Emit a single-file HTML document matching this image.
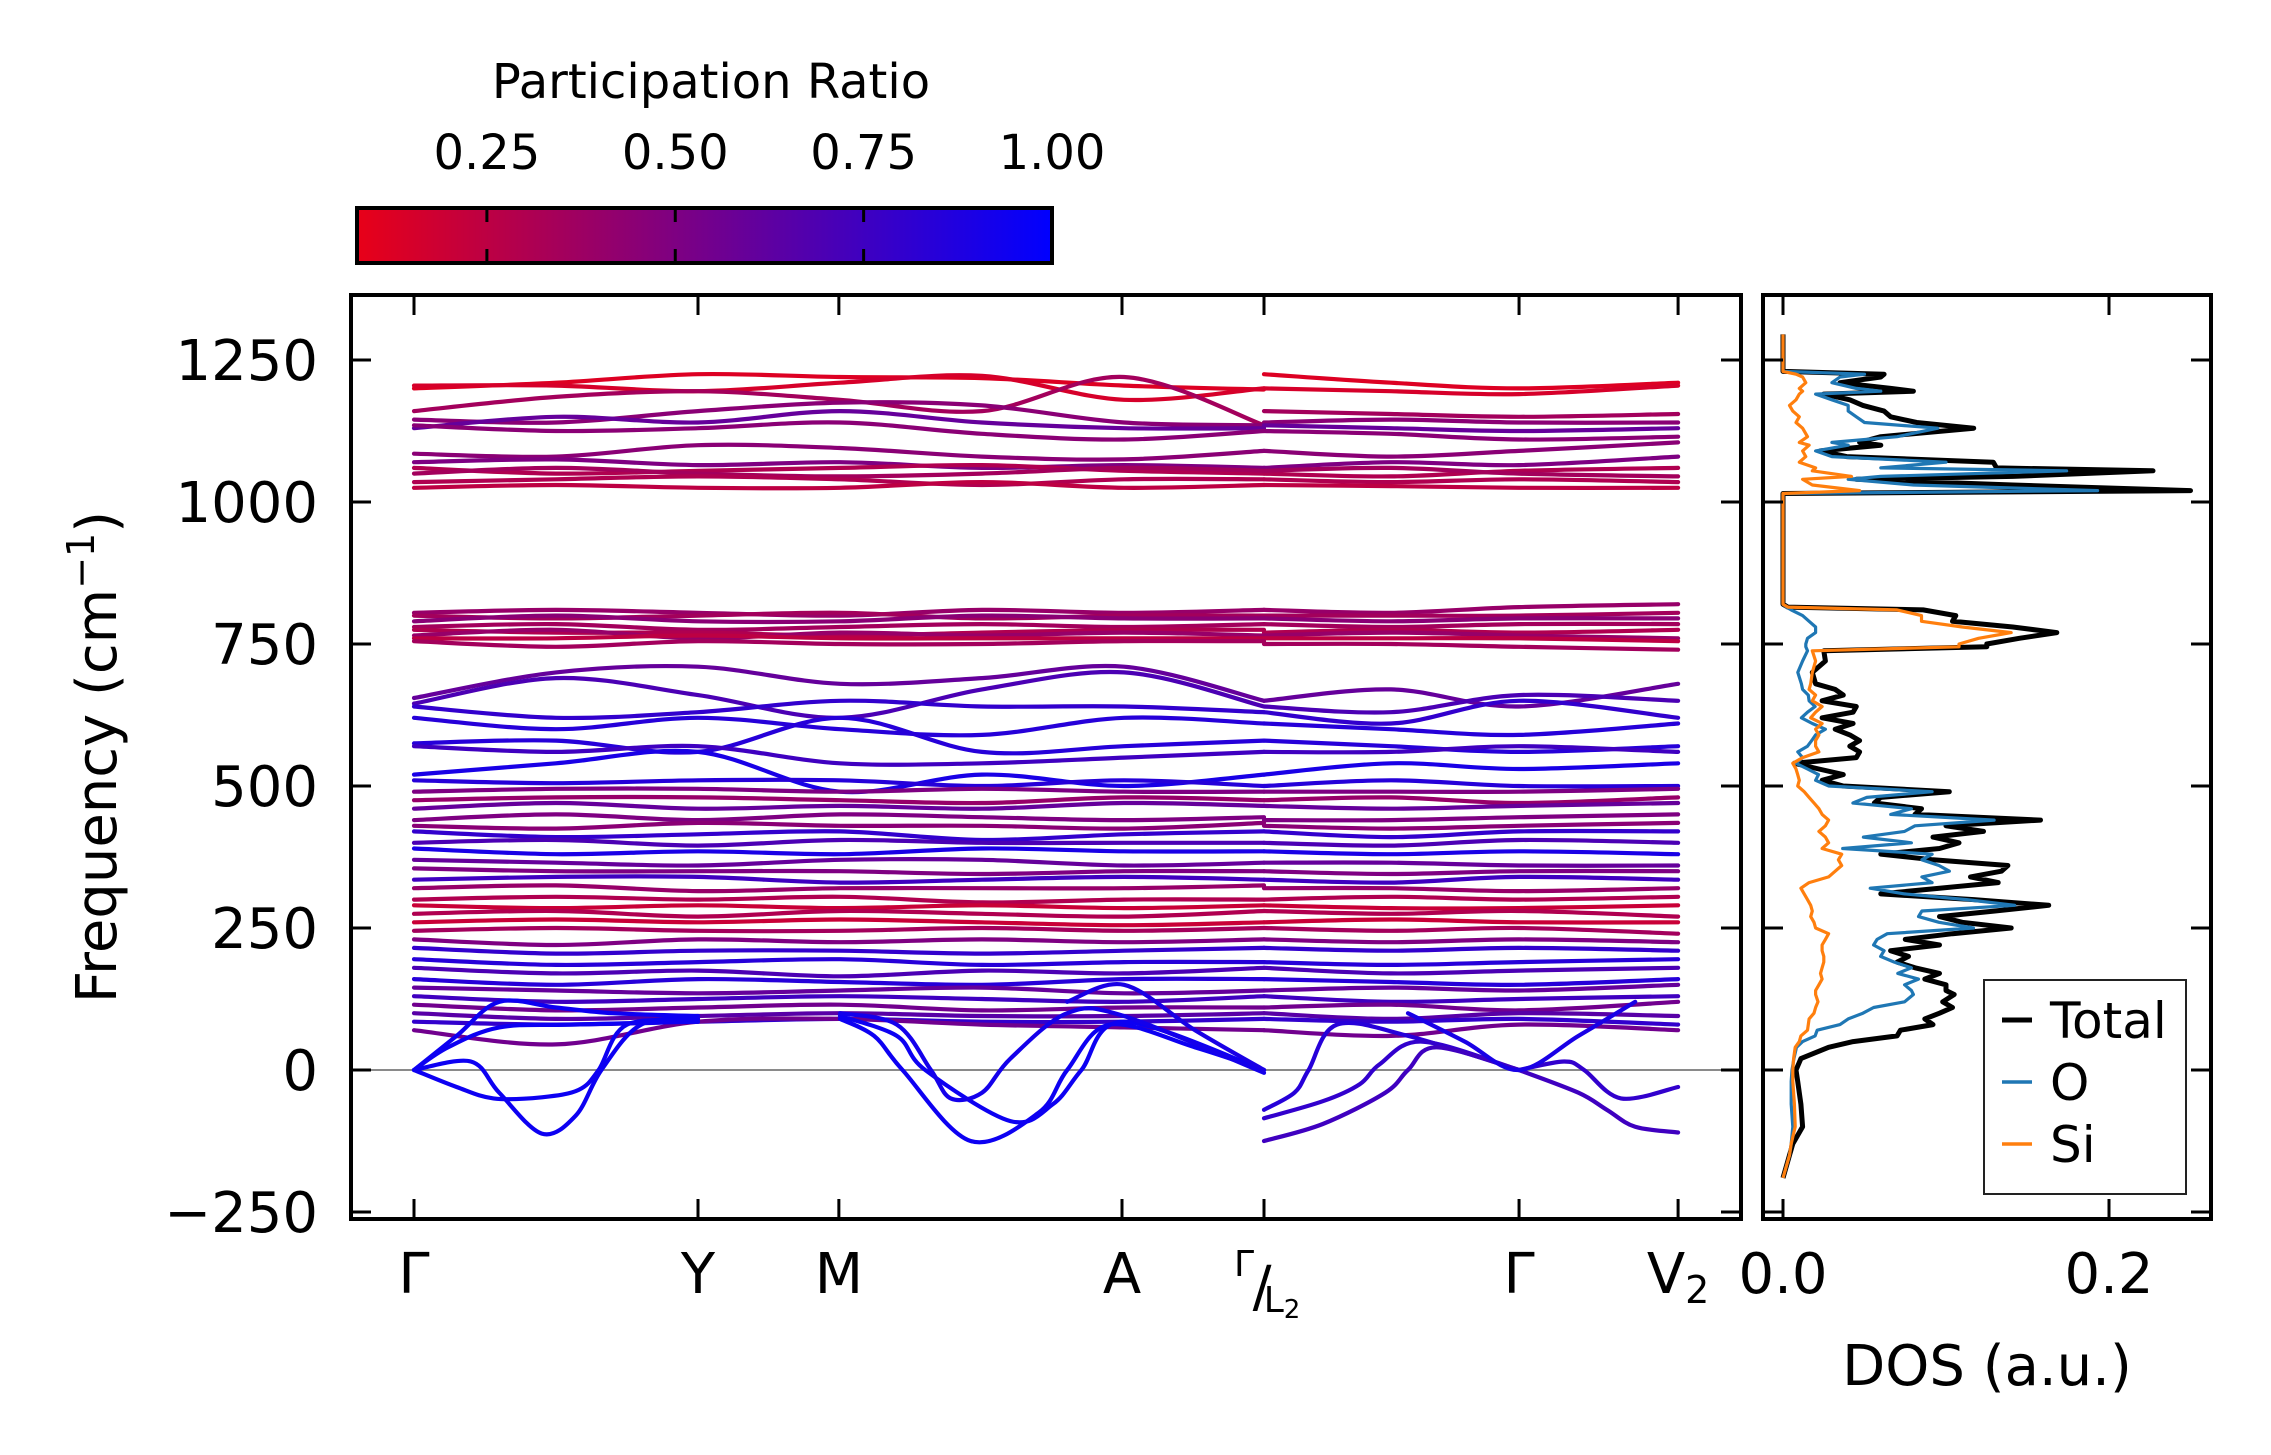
<!DOCTYPE html>
<html><head><meta charset="utf-8"><title>Phonon bands and DOS</title>
<style>html,body{margin:0;padding:0;background:#fff}svg{display:block;font-family:"DejaVu Sans","Liberation Sans",sans-serif}</style>
</head><body>
<svg id="fig" width="2271" height="1455" viewBox="0 0 2271 1455" xmlns="http://www.w3.org/2000/svg">
<defs>
<linearGradient id="cmap" x1="0" x2="1" y1="0" y2="0"><stop offset="0" stop-color="rgb(232,0,24)"/><stop offset="1" stop-color="rgb(0,0,255)"/></linearGradient>
<clipPath id="mainclip"><rect x="351" y="295" width="1390" height="924"/></clipPath>
<clipPath id="dosclip"><rect x="1763" y="295" width="448" height="924"/></clipPath>
</defs>
<g id="colorbar"></g>
<g id="bands"></g>
<g id="dos"></g>
</svg>
<script>
// ---------- data ----------
const kPointU = [0, 1, 1.496, 2.493, 2.993, 3.891, 4.451];
const kPointLabels = ["Γ", "Y", "M", "A", "Γ/L2", "Γ", "V2"];
const yTicks = [-250, 0, 250, 500, 750, 1000, 1250];
const cbTicks = [0.25, 0.5, 0.75, 1.0];
const cbRange = [0.0776, 1.0];
const knotUA = [0, 0.5, 1, 1.5, 2, 2.5, 2.993];
const knotUB = [2.993, 3.44, 3.891, 4.451];
const bandFreqA = [
[1200,1210,1225,1220,1218,1205,1198],[1205,1205,1195,1210,1222,1180,1200],[1160,1185,1195,1180,1160,1220,1135],
[1145,1140,1160,1175,1170,1140,1135],[1130,1150,1140,1160,1140,1130,1130],[1135,1125,1130,1140,1120,1110,1125],
[1085,1080,1100,1095,1080,1075,1090],[1070,1075,1065,1070,1060,1065,1060],[1060,1050,1055,1060,1065,1055,1050],
[1050,1060,1050,1045,1050,1060,1055],[1035,1040,1045,1040,1030,1040,1040],[1025,1030,1025,1025,1035,1025,1030],
[805,810,805,800,810,805,810],[800,795,800,805,795,800,800],[790,800,790,790,800,795,795],[780,785,775,780,785,780,785],
[775,770,770,765,770,775,775],[765,775,760,770,765,770,765],[760,760,765,760,760,760,760],[755,745,755,750,750,755,755],
[655,700,710,680,690,710,650],[645,690,660,620,670,700,640],[640,620,630,650,640,640,630],[620,600,620,600,590,620,610],
[575,580,560,620,560,570,580],[570,560,570,540,540,550,560],[520,540,560,490,520,500,520],[510,505,510,510,500,510,500],
[490,495,495,490,495,490,490],[475,480,480,475,470,480,475],[460,470,460,465,460,470,465],[440,450,440,450,445,440,445],
[430,425,435,430,430,425,435],[420,410,415,420,405,415,420],[400,405,395,405,400,400,400],[390,380,385,380,390,385,385],
[370,365,360,370,370,360,365],[355,350,350,350,345,350,350],[335,340,340,330,335,340,335],[320,325,315,320,320,320,325],
[300,305,300,305,295,300,300],[290,285,290,285,290,285,290],[275,280,270,280,275,270,280],[260,265,260,265,260,255,260],
[245,250,245,245,250,245,250],[230,220,230,225,230,225,230],[215,205,210,210,205,210,215],[195,185,190,195,185,190,190],
[180,170,175,165,175,170,180],[160,150,160,155,150,160,160],[145,140,135,140,145,135,140],[130,120,125,130,125,120,130],
[115,105,110,115,105,110,110],[100,90,95,100,95,95,100],[85,80,85,90,85,85,90],[70,45,85,90,80,75,70]
];
const bandFreqB = [
[1225,1210,1200,1210],[1200,1195,1190,1205],[1160,1155,1150,1155],[1140,1145,1140,1140],[1135,1130,1125,1130],[1125,1120,1110,1115],
[1090,1080,1090,1105],[1060,1070,1065,1080],[1050,1045,1055,1060],[1055,1060,1050,1045],[1040,1035,1040,1035],[1030,1028,1025,1025],
[810,805,815,820],[800,800,800,805],[795,790,795,795],[785,780,785,785],[770,775,770,775],[765,770,765,760],[760,760,760,755],[750,750,745,740],
[650,670,640,680],[640,630,660,650],[630,610,650,620],[610,600,590,610],[580,570,560,570],[560,560,570,560],[520,540,530,540],[500,510,500,500],
[490,490,490,495],[475,480,470,480],[465,460,465,470],[440,440,445,450],[430,425,430,435],[420,410,420,420],[400,395,405,400],[385,380,385,380],
[365,365,360,360],[350,345,350,350],[335,330,340,335],[320,320,315,320],[300,305,300,305],[290,285,285,290],[280,275,280,270],[260,265,260,260],
[250,245,250,240],[230,225,230,225],[215,210,215,210],[190,185,190,195],[180,170,175,180],[160,155,150,160],[140,145,140,150],[130,120,125,130],
[110,115,105,120],[100,90,100,95],[90,85,90,80],[70,60,80,70]
];
const bandPR = [0.12,0.15,0.35,0.45,0.6,0.45,0.45,0.5,0.3,0.35,0.3,0.25,
0.4,0.35,0.45,0.35,0.3,0.4,0.25,0.35,
0.6,0.7,0.8,0.85,0.85,0.75,0.9,0.85,
0.5,0.4,0.6,0.5,0.45,0.8,0.7,0.9,0.6,0.5,0.75,0.4,0.3,0.2,0.3,0.2,0.35,
0.5,0.8,0.85,0.7,0.85,0.6,0.75,0.55,0.65,0.8,0.55];
const softU = [
[0,0.2,0.3,0.45,0.57,0.66,0.8,1],
[0,0.15,0.28,0.45,0.58,0.65,0.75,1],
[0,0.15,0.3,0.5,0.7,1],
[0,0.12,0.3,0.55,1],
[1.5,1.62,1.72,1.96,2.2,2.3,2.45,2.75,2.993],
[1.5,1.7,1.8,2.1,2.25,2.35,2.5,2.993],
[1.5,1.7,1.82,1.89,2.0,2.1,2.3,2.5,2.993],
[2.3,2.5,2.75,2.993],
[2.993,3.1,3.15,3.25,3.5,3.891],
[2.993,3.2,3.33,3.4,3.55,3.891],
[2.993,3.2,3.42,3.5,3.6,3.891],
[3.891,4.05,4.12,4.25,4.451],
[3.891,4.1,4.2,4.3,4.451],
[3.5,3.7,3.891,4.1,4.3]
];
const softF = [
[0,15,-40,-112,-80,0,80,90],
[0,-30,-50,-48,-35,0,80,85],
[0,60,120,110,100,95],
[0,40,75,80,85],
[90,60,0,-125,-75,0,80,40,0],
[95,60,0,-90,-60,0,85,0],
[100,80,0,-50,-40,20,100,95,-5],
[120,150,70,0],
[-70,-40,0,80,60,0],
[-85,-55,-25,10,50,0],
[-125,-95,-40,0,40,0],
[0,15,0,-50,-30],
[0,-40,-70,-100,-110],
[100,50,0,60,120]
];
const softPR = [0.95,0.95,0.95,0.95,0.95,0.95,0.92,0.9,0.85,0.8,0.75,0.8,0.75,0.9];

const dosFreq = [-190,-150,-130,-100,-60,-20,0,20,40,50,
60,70,80,90,100,110,120,133,140,150,
160,170,180,190,200,210,220,230,240,250,
260,270,280,290,300,310,320,330,340,350,
360,370,380,390,400,410,420,430,440,450,
460,470,480,490,500,510,520,530,540,550,
560,570,580,590,600,610,620,630,640,650,
660,670,680,700,720,738,745,750,760,770,
780,790,800,810,815,820,1015,1020,1030,1040,
1045,1055,1060,1070,1080,1090,1100,1105,1115,1130,
1140,1150,1160,1170,1180,1190,1195,1200,1210,1220,
1225,1230,1240,1295];
const dosTotal = [0,0.004,0.006,0.012,0.011,0.009,0.008,0.011,0.028,0.043,
0.070,0.072,0.092,0.087,0.096,0.104,0.098,0.105,0.100,0.100,
0.087,0.096,0.081,0.070,0.077,0.066,0.096,0.075,0.104,0.140,
0.110,0.096,0.130,0.163,0.117,0.060,0.096,0.132,0.115,0.134,
0.138,0.092,0.060,0.096,0.108,0.092,0.123,0.100,0.158,0.081,
0.085,0.056,0.060,0.102,0.037,0.024,0.037,0.022,0.007,0.045,
0.047,0.041,0.047,0.041,0.032,0.043,0.024,0.043,0.045,0.024,
0.037,0.032,0.020,0.018,0.026,0.025,0.125,0.125,0.145,0.168,
0.141,0.104,0.106,0.086,0.003,0,0,0.250,0.141,0.045,
0.141,0.227,0.131,0.129,0.039,0.023,0.060,0.047,0.060,0.117,
0.082,0.066,0.062,0.049,0.041,0.025,0.080,0.066,0.035,0.060,
0.062,0,0,0];
const dosO = [0,0.004,0.005,0.006,0.005,0.005,0.0055,0.0067,0.0083,0.012,
0.0197,0.021,0.035,0.040,0.049,0.0556,0.0746,0.080,0.0788,0.0746,
0.0831,0.0704,0.0788,0.0683,0.0599,0.0620,0.0556,0.0577,0.0640,0.1169,
0.0957,0.0831,0.0852,0.1422,0.1126,0.0746,0.0535,0.0915,0.0852,0.1021,
0.0957,0.0852,0.0915,0.0366,0.0788,0.0493,0.0746,0.0810,0.1295,0.0661,
0.0788,0.0429,0.0514,0.0915,0.0281,0.020,0.0218,0.015,0.008,0.012,
0.0091,0.015,0.0176,0.020,0.026,0.018,0.0113,0.015,0.0197,0.016,
0.0155,0.012,0.0113,0.0091,0.012,0.015,0.014,0.014,0.015,0.020,
0.020,0.016,0.012,0.005,0.002,0,0,0.193,0.080,0.040,
0.060,0.174,0.060,0.100,0.030,0.020,0.040,0.030,0.070,0.095,
0.050,0.045,0.040,0.040,0.030,0.020,0.060,0.045,0.030,0.035,
0.050,0,0,0];
const dosSi = [0,0.004,0.005,0.0075,0.007,0.006,0.006,0.0065,0.0075,0.010,
0.011,0.015,0.0155,0.016,0.019,0.020,0.0215,0.020,0.020,0.022,
0.024,0.023,0.024,0.025,0.025,0.024,0.024,0.026,0.028,0.020,
0.019,0.017,0.018,0.017,0.015,0.013,0.011,0.016,0.028,0.032,
0.036,0.034,0.036,0.024,0.028,0.026,0.022,0.026,0.028,0.024,
0.022,0.019,0.016,0.013,0.009,0.010,0.009,0.008,0.006,0.012,
0.022,0.020,0.020,0.022,0.020,0.024,0.017,0.020,0.024,0.018,
0.020,0.016,0.017,0.018,0.020,0.018,0.108,0.108,0.120,0.140,
0.110,0.085,0.085,0.070,0.003,0,0,0.047,0.018,0.012,
0.042,0.018,0.020,0.010,0.014,0.012,0.016,0.010,0.015,0.012,
0.008,0.010,0.006,0.004,0.008,0.010,0.012,0.010,0.014,0.012,
0.008,0,0,0];
const dosTicks = [0, 0.2];

// ---------- scales ----------
const NS = "http://www.w3.org/2000/svg";
const xK = u => 414 + 284 * u;
const yF = f => 1070 - 0.568 * f;
const xD = d => 1783 + 1630 * d;
const xCB = v => 357 + (v - cbRange[0]) / (cbRange[1] - cbRange[0]) * 695;
function prColor(p) {
  let t = (p - cbRange[0]) / (cbRange[1] - cbRange[0]);
  t = Math.max(0, Math.min(1, t));
  return "rgb(" + Math.round(232 * (1 - t)) + ",0," + Math.round(24 + 231 * t) + ")";
}
function mk(tag, attrs, parent) {
  const e = document.createElementNS(NS, tag);
  for (const k in attrs) e.setAttribute(k, attrs[k]);
  parent.appendChild(e);
  return e;
}
function smoothPath(pts) {
  let d = "M" + pts[0][0].toFixed(1) + "," + pts[0][1].toFixed(1);
  for (let i = 0; i < pts.length - 1; i++) {
    const p0 = pts[i - 1] || pts[i], p1 = pts[i], p2 = pts[i + 1], p3 = pts[i + 2] || pts[i + 1];
    const c1 = [p1[0] + (p2[0] - p0[0]) / 6, p1[1] + (p2[1] - p0[1]) / 6];
    const c2 = [p2[0] - (p3[0] - p1[0]) / 6, p2[1] - (p3[1] - p1[1]) / 6];
    d += "C" + c1[0].toFixed(1) + "," + c1[1].toFixed(1) + " " + c2[0].toFixed(1) + "," + c2[1].toFixed(1) + " " + p2[0].toFixed(1) + "," + p2[1].toFixed(1);
  }
  return d;
}
function txt(parent, x, y, s, size, anchor, name) {
  const t = mk("text", {x: x, y: y, "font-size": size, "text-anchor": anchor || "middle", fill: "#000"}, parent);
  t.textContent = s;
  
  
  return t;
}

// ---------- colorbar ----------
const cb = document.getElementById("colorbar");
const cbTitle = txt(cb, 711, 98, "Participation Ratio", 48, "middle", "colorbar-title");
const cbRect = mk("rect", {x: 357, y: 208, width: 695, height: 55, fill: "url(#cmap)", stroke: "#000", "stroke-width": 4}, cb);


cbTicks.forEach(v => {
  const x = xCB(v);
  if (v < 1) {
    const t1 = mk("line", {x1: x, x2: x, y1: 208, y2: 222, stroke: "#000", "stroke-width": 3}, cb);
    
    
    const t2 = mk("line", {x1: x, x2: x, y1: 249, y2: 263, stroke: "#000", "stroke-width": 3}, cb);
    
    
  }
  txt(cb, x, 169, v.toFixed(2), 48, "middle", "colorbar-tick-label");
});

// ---------- band structure ----------
const bg = document.getElementById("bands");
const zl = mk("line", {x1: 351, x2: 1741, y1: yF(0), y2: yF(0), stroke: "#8a8a8a", "stroke-width": 2}, bg);


const bandLayer = mk("g", {"clip-path": "url(#mainclip)", fill: "none", "stroke-width": 4.2, "stroke-linecap": "round"}, bg);


bandFreqA.forEach((fa, i) => {
  const col = prColor(bandPR[i]);
  const pa = mk("path", {d: smoothPath(fa.map((f, j) => [xK(knotUA[j]), yF(f)])), stroke: col}, bandLayer);
  
  
  const fb = bandFreqB[i];
  const pb = mk("path", {d: smoothPath(fb.map((f, j) => [xK(knotUB[j]), yF(f)])), stroke: col}, bandLayer);
  
  
});
softU.forEach((us, i) => {
  const p = mk("path", {d: smoothPath(us.map((u, j) => [xK(u), yF(softF[i][j])])), stroke: prColor(softPR[i])}, bandLayer);
  
  
});
// axes frame
const frame = mk("rect", {x: 351, y: 295, width: 1390, height: 924, fill: "none", stroke: "#000", "stroke-width": 4}, bg);


yTicks.forEach(v => {
  const y = yF(v);
  const a = mk("line", {x1: 351, x2: 371, y1: y, y2: y, stroke: "#000", "stroke-width": 3}, bg);
  
  
  const b = mk("line", {x1: 1721, x2: 1741, y1: y, y2: y, stroke: "#000", "stroke-width": 3}, bg);
  
  
  txt(bg, 318, y + 20, v < 0 ? "\u2212" + Math.abs(v) : String(v), 56, "end", "y-tick-label");
});
kPointU.forEach((u, i) => {
  const x = xK(u);
  const a = mk("line", {x1: x, x2: x, y1: 295, y2: 315, stroke: "#000", "stroke-width": 3}, bg);
  
  
  const b = mk("line", {x1: x, x2: x, y1: 1199, y2: 1219, stroke: "#000", "stroke-width": 3}, bg);
  
  
  const lab = kPointLabels[i];
  if (lab === "Γ/L2") {
    txt(bg, x - 20, 1276, "Γ", 36, "middle", "k-label-gamma-small");
    txt(bg, x - 2, 1306, "/", 56, "middle", "k-label-slash");
    const l = txt(bg, x + 18, 1312, "L", 36, "middle", "k-label-l2");
    const s = mk("tspan", {"font-size": 26, dy: 6}, l); s.textContent = "2";
  } else if (lab === "V2") {
    const t = txt(bg, x, 1293, "V", 56, "middle", "k-label-v2");
    const s = mk("tspan", {"font-size": 38, dy: 10}, t); s.textContent = "2";
  } else {
    txt(bg, x, 1293, lab, 56, "middle", "k-label");
  }
});
const yl = mk("text", {x: 0, y: 0, "font-size": 56, "text-anchor": "middle", transform: "translate(116,757) rotate(-90)"}, bg);


yl.appendChild(document.createTextNode("Frequency (cm"));
const sup = mk("tspan", {"font-size": 38, dy: -22}, yl); sup.textContent = "\u22121";
const cl = mk("tspan", {dy: 22}, yl); cl.textContent = ")";

// ---------- DOS ----------
const dg = document.getElementById("dos");
const dl = mk("g", {"clip-path": "url(#dosclip)", fill: "none", "stroke-linejoin": "round"}, dg);


function dosLine(vals, col, w, name) {
  const p = mk("polyline", {points: dosFreq.map((f, i) => xD(vals[i]).toFixed(1) + "," + yF(f).toFixed(1)).join(" "), stroke: col, "stroke-width": w}, dl);
  
  
}
dosLine(dosTotal, "#000", 5, "dos-total-line");
dosLine(dosO, "#1f77b4", 3.2, "dos-o-line");
dosLine(dosSi, "#ff7f0e", 3.2, "dos-si-line");
const dframe = mk("rect", {x: 1763, y: 295, width: 448, height: 924, fill: "none", stroke: "#000", "stroke-width": 4}, dg);


yTicks.forEach(v => {
  const y = yF(v);
  const a = mk("line", {x1: 1763, x2: 1783, y1: y, y2: y, stroke: "#000", "stroke-width": 3}, dg);
  
  
  const b = mk("line", {x1: 2191, x2: 2211, y1: y, y2: y, stroke: "#000", "stroke-width": 3}, dg);
  
  
});
dosTicks.forEach(v => {
  const x = xD(v);
  const a = mk("line", {x1: x, x2: x, y1: 295, y2: 315, stroke: "#000", "stroke-width": 3}, dg);
  
  
  const b = mk("line", {x1: x, x2: x, y1: 1199, y2: 1219, stroke: "#000", "stroke-width": 3}, dg);
  
  
  txt(dg, x, 1293, v.toFixed(1), 56, "middle", "dos-x-tick-label");
});
txt(dg, 1987, 1385, "DOS (a.u.)", 56, "middle", "dos-x-axis-title");
// legend
const lg = mk("g", {}, dg);


const lbox = mk("rect", {x: 1984, y: 980, width: 202, height: 214, fill: "#fff", stroke: "#222", "stroke-width": 2}, lg);


const legNames = ["Total", "O", "Si"];
const legCols = ["#000", "#1f77b4", "#ff7f0e"];
const legW = [5, 3.5, 3.5];
legNames.forEach((n, i) => {
  const y = 1020 + i * 62;
  const h = mk("line", {x1: 2002, x2: 2032, y1: y, y2: y, stroke: legCols[i], "stroke-width": legW[i]}, lg);
  
  
  txt(lg, 2050, y + 18, n, 50, "start", "legend-entry");
});
</script>
</body></html>
